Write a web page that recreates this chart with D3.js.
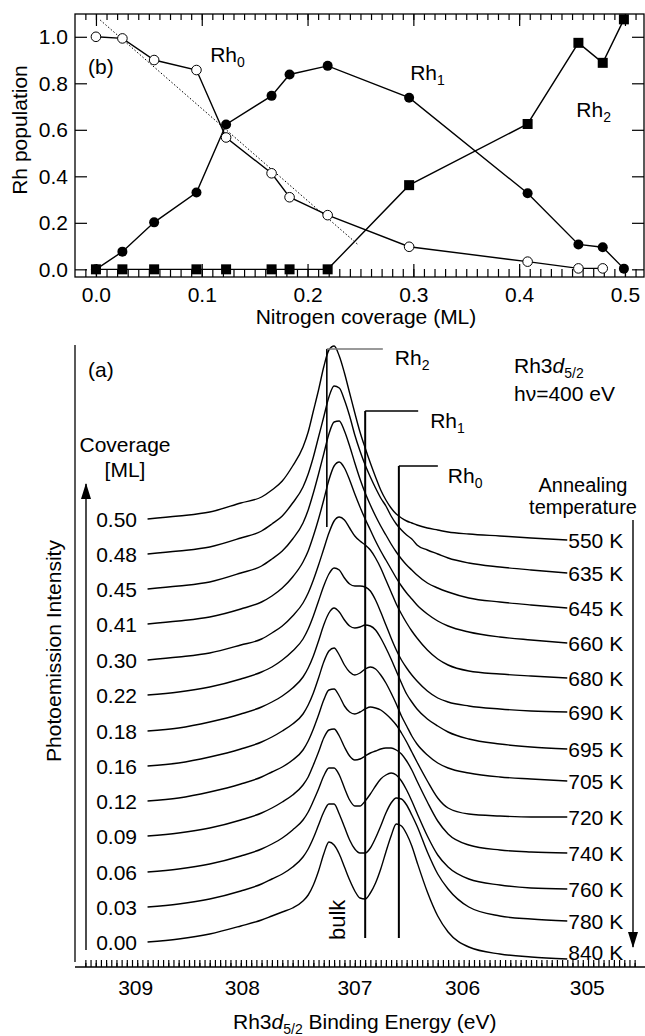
<!DOCTYPE html>
<html>
<head>
<meta charset="utf-8">
<script src="https://cdn.jsdelivr.net/npm/d3@7"></script>
<style>
  body { margin: 0; background: #fff; }
  svg { display: block; font-family: "Liberation Sans", Arial, Helvetica, sans-serif; }
  text { fill: #000; }
</style>
</head>
<body>
<svg id="chart" width="645" height="1036"></svg>
<script>
// ---------- panel (b): Rh population vs nitrogen coverage ----------
const coverage = [0, 0.025, 0.055, 0.095, 0.123, 0.166, 0.183, 0.219, 0.296, 0.408, 0.456, 0.479, 0.499];
const rh0Pop = [1.0, 0.993, 0.90, 0.857, 0.567, 0.413, 0.31, 0.233, 0.097, 0.033, 0.004, 0.004, null];
const rh1Pop = [0, 0.076, 0.202, 0.33, 0.623, 0.746, 0.838, 0.875, 0.738, 0.327, 0.107, 0.095, 0.003];
const rh2Pop = [0, 0, 0, 0, 0, 0, 0, 0, 0.362, 0.625, 0.974, 0.888, 1.075];
// dotted guide line through the Rh0 decay
const fitCoverage = [0.004, 0.248];
const fitPop = [1.072, 0.105];
const popTicks = [0, 0.2, 0.4, 0.6, 0.8, 1.0];
const coverageTicks = [0, 0.1, 0.2, 0.3, 0.4, 0.5];

// ---------- panel (a): Rh3d5/2 spectra ----------
const energy = [308.9, 308.6, 308.3, 308.0, 307.8, 307.7, 307.6, 307.5, 307.4, 307.35,
  307.3, 307.25, 307.2, 307.15, 307.1, 307.05, 307.0, 306.95, 306.9, 306.85,
  306.8, 306.75, 306.7, 306.65, 306.6, 306.55, 306.5, 306.45, 306.4, 306.35,
  306.3, 306.2, 306.1, 306.0, 305.8, 305.5, 305.2, 304.85];
const coverageLabels = ['0.50', '0.48', '0.45', '0.41', '0.30', '0.22', '0.18', '0.16', '0.12', '0.09', '0.06', '0.03', '0.00'];
const annealTemps = [550, 635, 645, 660, 680, 690, 695, 705, 720, 740, 760, 780, 840];
// intensities (arb. units, stacked as plotted), one row per coverage, top to bottom
const spectra = [
  [449, 452, 456, 465, 471, 478, 487, 502, 521, 536, 557, 578, 601, 618, 622, 612, 595, 575, 555, 536, 520, 505, 491, 478, 468, 460, 454, 450, 447, 445, 443, 440, 438, 436, 434, 432, 430, 428],
  [414, 417, 421, 430, 437, 444, 452, 465, 481, 494, 511, 531, 551, 571, 582, 580, 568, 552, 533, 517, 503, 491, 480, 470, 462, 452, 444, 438, 433, 429, 423, 418, 414, 410, 405, 401, 398, 395],
  [379, 382, 386, 395, 402, 409, 417, 429, 445, 458, 475, 494, 514, 534, 546, 547, 537, 522, 505, 489, 475, 463, 452, 442, 433, 424, 416, 409, 403, 398, 393, 385, 380, 376, 370, 366, 363, 360],
  [344, 347, 351, 359, 366, 372, 380, 391, 406, 417, 432, 449, 468, 488, 502, 506, 500, 488, 474, 461, 449, 438, 427, 417, 408, 399, 390, 382, 375, 369, 363, 354, 347, 342, 336, 331, 328, 325],
  [308, 311, 315, 323, 329, 335, 342, 352, 365, 375, 388, 403, 419, 435, 447, 451, 448, 440, 432, 427, 423, 418, 410, 400, 388, 376, 364, 354, 345, 337, 330, 318, 309, 303, 297, 294, 292, 290],
  [273, 276, 281, 289, 296, 301, 308, 317, 329, 339, 352, 367, 382, 394, 400, 398, 390, 384, 382, 382, 381, 377, 368, 356, 343, 330, 318, 308, 300, 293, 287, 277, 270, 266, 262, 259, 257, 256],
  [237, 240, 246, 254, 261, 266, 272, 280, 291, 300, 312, 327, 343, 355, 360, 356, 348, 342, 340, 341, 343, 342, 338, 330, 320, 309, 297, 285, 274, 266, 259, 249, 242, 236, 229, 224, 221, 219],
  [202, 205, 211, 219, 226, 231, 237, 244, 254, 263, 275, 290, 306, 317, 320, 313, 303, 296, 293, 295, 299, 301, 299, 293, 285, 275, 264, 252, 242, 232, 224, 213, 205, 200, 195, 191, 189, 187],
  [167, 170, 176, 184, 191, 196, 201, 208, 218, 227, 239, 253, 268, 278, 279, 272, 262, 256, 254, 256, 259, 261, 260, 258, 254, 249, 243, 235, 226, 216, 206, 187, 170, 160, 154, 152, 151, 151],
  [132, 135, 140, 148, 155, 160, 166, 173, 183, 191, 203, 216, 230, 238, 239, 232, 221, 212, 208, 209, 212, 215, 217, 219, 220, 220, 218, 214, 207, 198, 187, 166, 147, 134, 123, 118, 116, 115],
  [96, 99, 104, 112, 119, 124, 130, 138, 148, 156, 167, 179, 192, 200, 200, 193, 180, 168, 162, 162, 167, 174, 182, 189, 193, 195, 193, 187, 178, 167, 155, 132, 113, 101, 89, 83, 80, 79],
  [61, 64, 69, 77, 84, 89, 94, 101, 111, 119, 130, 143, 156, 164, 164, 154, 141, 128, 119, 115, 115, 120, 130, 142, 155, 165, 170, 169, 163, 153, 142, 116, 94, 79, 61, 52, 49, 47],
  [26, 29, 34, 42, 48, 52, 56, 60, 67, 73, 83, 97, 114, 126, 123, 114, 101, 88, 77, 70, 69, 75, 85, 99, 116, 132, 144, 142, 134, 122, 106, 76, 52, 36, 21, 14, 11, 9]
];
const peakNames = ['2', '1', '0'];
const peakEnergy = [307.17, 306.80, 306.475];
const energyTicks = [309, 308, 307, 306, 305];

const svg = d3.select('#chart');
const FS = 21;

function subLabel(g, x, y, main, sub) {
  const t = g.append('text').attr('x', x).attr('y', y).attr('font-size', FS);
  t.append('tspan').text(main);
  t.append('tspan').attr('dy', 5).attr('font-size', 14).text(sub);
  return t;
}
function styleAxis(g) {
  g.select('.domain').remove();
  g.attr('font-size', FS).attr('font-family', null);
  g.selectAll('line').attr('stroke', '#000').attr('stroke-width', 1.2);
}

// ================= panel (b) =================
const xB = d3.scaleLinear().domain([-0.0198, 0.518]).range([75, 644]);
const yB = d3.scaleLinear().domain([-0.033, 1.098]).range([277, 14]);
const minorCov = d3.range(-1, 52).map(i => i / 100);

const gB = svg.append('g');

gB.append('g').attr('transform', 'translate(0,277)')
  .call(d3.axisBottom(xB).tickValues(minorCov).tickSize(-8).tickFormat('')).call(styleAxis);
gB.append('g').attr('transform', 'translate(0,277)')
  .call(d3.axisBottom(xB).tickValues(coverageTicks).tickSize(-13).tickPadding(10).tickFormat(d3.format('.1f')))
  .call(styleAxis);
gB.append('g').attr('transform', 'translate(0,14)')
  .call(d3.axisTop(xB).tickValues(minorCov).tickSize(-6).tickFormat('')).call(styleAxis);
gB.append('g').attr('transform', 'translate(0,14)')
  .call(d3.axisTop(xB).tickValues(coverageTicks).tickSize(-12).tickFormat('')).call(styleAxis);
gB.append('g').attr('transform', 'translate(75,0)')
  .call(d3.axisLeft(yB).tickValues(popTicks).tickSize(-12).tickPadding(7).tickFormat(d3.format('.1f')))
  .call(styleAxis);
gB.append('g').attr('transform', 'translate(644,0)')
  .call(d3.axisRight(yB).tickValues(popTicks).tickSize(-12).tickFormat('')).call(styleAxis);

gB.append('rect').attr('x', 75).attr('y', 14).attr('width', 569).attr('height', 263)
  .attr('fill', 'none').attr('stroke', '#000').attr('stroke-width', 1.3);

// dotted guide
gB.append('path')
  .attr('d', d3.line()(fitCoverage.map((c, i) => [xB(c), yB(fitPop[i])])))
  .attr('fill', 'none').attr('stroke', '#000').attr('stroke-width', 1).attr('stroke-dasharray', '1.5,2');

const popLine = d3.line().defined(d => d[1] != null).x(d => xB(d[0])).y(d => yB(d[1]));
[rh0Pop, rh1Pop, rh2Pop].forEach(series => {
  gB.append('path').attr('d', popLine(coverage.map((c, i) => [c, series[i]])))
    .attr('fill', 'none').attr('stroke', '#000').attr('stroke-width', 1.4);
});

gB.selectAll('circle.open').data(coverage.map((c, i) => [c, rh0Pop[i]]).filter(d => d[1] != null))
  .join('circle').attr('class', 'open')
  .attr('cx', d => xB(d[0])).attr('cy', d => yB(d[1])).attr('r', 4.8)
  .attr('fill', '#fff').attr('stroke', '#000').attr('stroke-width', 1);
gB.selectAll('circle.filled').data(coverage.map((c, i) => [c, rh1Pop[i]]))
  .join('circle').attr('class', 'filled')
  .attr('cx', d => xB(d[0])).attr('cy', d => yB(d[1])).attr('r', 5);
gB.selectAll('rect.sq').data(coverage.map((c, i) => [c, rh2Pop[i]]))
  .join('rect').attr('class', 'sq')
  .attr('x', d => xB(d[0]) - 5).attr('y', d => yB(d[1]) - 5).attr('width', 10).attr('height', 10);

gB.append('text').attr('x', xB(-0.0075)).attr('y', yB(0.84)).attr('font-size', FS).text('(b)');
subLabel(gB, xB(0.108), yB(0.891), 'Rh', '0');
subLabel(gB, xB(0.297), yB(0.814), 'Rh', '1');
subLabel(gB, xB(0.454), yB(0.655), 'Rh', '2');

gB.append('text').attr('transform', 'translate(27,130) rotate(-90)')
  .attr('text-anchor', 'middle').attr('font-size', FS).text('Rh population');
gB.append('text').attr('x', 366).attr('y', 324)
  .attr('text-anchor', 'middle').attr('font-size', FS).text('Nitrogen coverage (ML)');

// ================= panel (a) =================
const xA = d3.scaleLinear().domain([309.6, 304.1]).range([75, 645]);
const yA = d3.scaleLinear().domain([0, 623]).range([968, 345]);
const gA = svg.append('g');

// frame: left line and bottom axis
gA.append('line').attr('x1', 75).attr('x2', 75).attr('y1', 345).attr('y2', 962)
  .attr('stroke', '#000').attr('stroke-width', 1.3);
gA.append('line').attr('x1', 75).attr('x2', 645).attr('y1', 967).attr('y2', 967)
  .attr('stroke', '#000').attr('stroke-width', 1.5);

const minorE = d3.range(3095, 3041, -1).map(v => v / 10);
const majorE = d3.range(6190, 6083, -1).map(v => v / 20);
gA.append('g').attr('transform', 'translate(0,967)')
  .call(d3.axisBottom(xA).tickValues(minorE).tickSize(-4).tickFormat('')).call(styleAxis);
const eAxis = gA.append('g').attr('transform', 'translate(0,967)')
  .call(d3.axisBottom(xA).tickValues(majorE).tickSize(-7).tickPadding(13)
    .tickFormat(d => energyTicks.includes(d) ? d3.format('d')(d) : ''))
  .call(styleAxis);
// the printed labels sit a little right of their ticks in the original
const labelShift = { 309: -2, 308: 1, 307: 10, 306: 14, 305: 35 };
eAxis.selectAll('text').attr('dx', d => labelShift[d] || 0);

// spectra
const specLine = d3.line().x((d, i) => xA(energy[i])).y(d => yA(d)).curve(d3.curveMonotoneX);
gA.selectAll('path.spec').data(spectra).join('path').attr('class', 'spec')
  .attr('d', specLine).attr('fill', 'none').attr('stroke', '#000').attr('stroke-width', 1.4)
  .attr('stroke-linejoin', 'round');

// component markers
const markerStyle = [
  { top: 349, bottom: 527, arm: 56, lx: 12, ly: 16, width: 1.6, armColor: '#777' },
  { top: 411, bottom: 938, arm: 53, lx: 12, ly: 17, width: 2, armColor: '#000' },
  { top: 466, bottom: 938, arm: 39, lx: 10, ly: 17, width: 2, armColor: '#000' }
];
peakEnergy.forEach((e, i) => {
  const s = markerStyle[i], x = xA(e);
  gA.append('line').attr('x1', x).attr('x2', x).attr('y1', s.top).attr('y2', s.bottom)
    .attr('stroke', '#000').attr('stroke-width', s.width);
  gA.append('line').attr('x1', x).attr('x2', x + s.arm).attr('y1', s.top).attr('y2', s.top)
    .attr('stroke', s.armColor).attr('stroke-width', 1.6);
  subLabel(gA, x + s.arm + s.lx, s.top + s.ly, 'Rh', peakNames[i]);
});

// coverage and temperature labels
gA.selectAll('text.cov').data(spectra).join('text').attr('class', 'cov')
  .attr('x', 137).attr('y', d => yA(d[0]) + 8).attr('text-anchor', 'end').attr('font-size', FS)
  .text((d, i) => coverageLabels[i]);
gA.selectAll('text.temp').data(spectra).join('text').attr('class', 'temp')
  .attr('x', xA(energy[energy.length - 1]) + 1)
  .attr('y', d => Math.min(yA(d[d.length - 1]) + 7.5, 960)).attr('font-size', FS)
  .text((d, i) => annealTemps[i] + ' K');

// arrows
const defs = svg.append('defs');
defs.append('marker').attr('id', 'headUp').attr('viewBox', '0 0 10 16')
  .attr('refX', 5).attr('refY', 1).attr('markerWidth', 10).attr('markerHeight', 16)
  .attr('markerUnits', 'userSpaceOnUse').attr('orient', '0')
  .append('path').attr('d', 'M5,0 L10,16 L0,16 Z').attr('fill', '#000');
defs.append('marker').attr('id', 'headDown').attr('viewBox', '0 0 10 16')
  .attr('refX', 5).attr('refY', 15).attr('markerWidth', 10).attr('markerHeight', 16)
  .attr('markerUnits', 'userSpaceOnUse').attr('orient', '0')
  .append('path').attr('d', 'M0,0 L10,0 L5,16 Z').attr('fill', '#000');
gA.append('line').attr('x1', 86).attr('x2', 86).attr('y1', 950).attr('y2', 484)
  .attr('stroke', '#000').attr('stroke-width', 1.4).attr('marker-end', 'url(#headUp)');
gA.append('line').attr('x1', 633).attr('x2', 633).attr('y1', 520).attr('y2', 947)
  .attr('stroke', '#000').attr('stroke-width', 1.4).attr('marker-end', 'url(#headDown)');

// annotations
gA.append('text').attr('x', 88).attr('y', 377).attr('font-size', FS).text('(a)');
gA.append('text').attr('x', 125).attr('y', 452).attr('text-anchor', 'middle').attr('font-size', FS).text('Coverage');
gA.append('text').attr('x', 125).attr('y', 477).attr('text-anchor', 'middle').attr('font-size', FS).text('[ML]');
gA.append('text').attr('x', 583).attr('y', 492).attr('text-anchor', 'middle').attr('font-size', 20).text('Annealing');
gA.append('text').attr('x', 583).attr('y', 514).attr('text-anchor', 'middle').attr('font-size', 20).text('temperature');

const title = gA.append('text').attr('x', 514).attr('y', 373).attr('font-size', FS);
title.append('tspan').text('Rh3');
title.append('tspan').attr('font-style', 'italic').text('d');
title.append('tspan').attr('dy', 5).attr('font-size', 14).text('5/2');
gA.append('text').attr('x', 514).attr('y', 401).attr('font-size', FS).text('h\u03bd=400 eV');

gA.append('text').attr('transform', 'translate(345,940) rotate(-90)').attr('font-size', 22).text('bulk');

gA.append('text').attr('transform', 'translate(61,651) rotate(-90)')
  .attr('text-anchor', 'middle').attr('font-size', FS).text('Photoemission Intensity');

const xt = gA.append('text').attr('x', 233).attr('y', 1029).attr('font-size', FS);
xt.append('tspan').text('Rh3');
xt.append('tspan').attr('font-style', 'italic').text('d');
xt.append('tspan').attr('dy', 5).attr('font-size', 14).text('5/2');
xt.append('tspan').attr('dy', -5).text(' Binding Energy (eV)');
</script>
</body>
</html>
